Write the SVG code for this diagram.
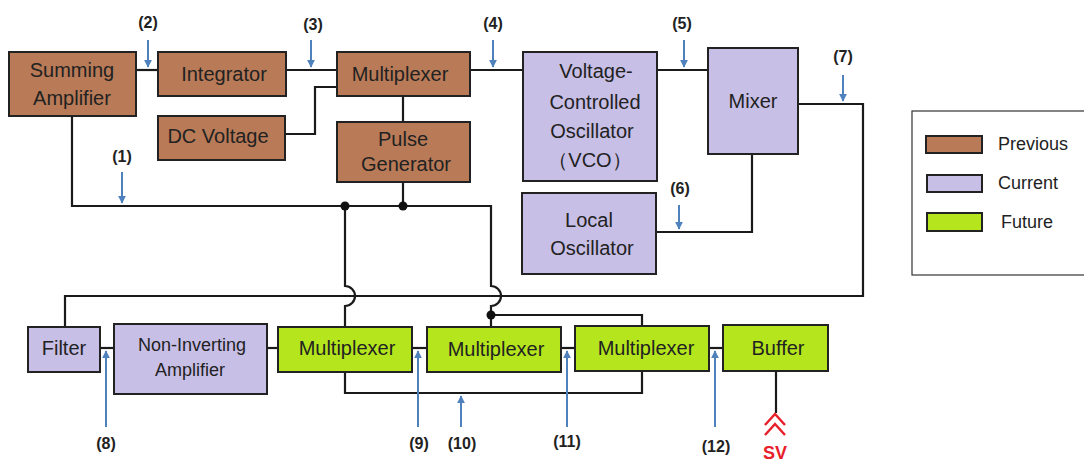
<svg xmlns="http://www.w3.org/2000/svg" width="1084" height="461" viewBox="0 0 1084 461">
<defs>
<marker id="ah" viewBox="0 0 10 10" refX="9" refY="5" markerWidth="4" markerHeight="4" orient="auto-start-reverse" markerUnits="strokeWidth">
<path d="M0,0 L10,5 L0,10 z" fill="#4F81BD"/>
</marker>
<style>
.prev{fill:#B97A57;stroke:#222;stroke-width:2}
.cur{fill:#C8BFE7;stroke:#222;stroke-width:2}
.fut{fill:#B5E61D;stroke:#222;stroke-width:2}
.t{font-family:"Liberation Sans",Arial,sans-serif;font-size:20px;fill:#222;text-anchor:middle}
.lbl{font-family:"Liberation Sans",Arial,sans-serif;font-weight:bold;font-size:16px;fill:#222;text-anchor:middle}
.w{fill:none;stroke:#1a1a1a;stroke-width:2.2}
.sig{stroke:#4F81BD;stroke-width:2;marker-end:url(#ah)}
.lg{font-family:"Liberation Sans",Arial,sans-serif;font-size:18px;fill:#222}
</style>
</defs>
<rect width="1084" height="461" fill="#fff"/>

<g id="connectors">
<path class="w" d="M136,70 H158"/>
<path class="w" d="M286,70 H337"/>
<path class="w" d="M285,134 H315 V87 H337"/>
<path class="w" d="M403,96 V122"/>
<path class="w" d="M470,70 H523"/>
<path class="w" d="M657,70 H708"/>
<path class="w" d="M752,154 V232 H656"/>
<path class="w" d="M798,104 H863 V296 H65 V327"/>
<path class="w" d="M72,116 V206 H491 V286 a10,10 0 0 1 0,20 V327"/>
<path class="w" d="M403,182 V206"/>
<path class="w" d="M345,206 V286 a10,10 0 0 1 0,20 V327"/>
<path class="w" d="M491,315 H642 V326"/>
<circle cx="345" cy="206" r="4.5" fill="#111"/>
<circle cx="403" cy="206" r="4.5" fill="#111"/>
<circle cx="491" cy="315" r="4.5" fill="#111"/>
<path class="w" d="M100,348 H114"/>
<path class="w" d="M267,348 H278"/>
<path class="w" d="M412,348 H427"/>
<path class="w" d="M561,348 H575"/>
<path class="w" d="M709,348 H723"/>
<path class="w" d="M345,372 V393 H642 V371"/>
<path class="w" d="M776,371 V413"/>
<path d="M765,425 L775,414 L785,425 M765,435 L775,424 L785,435" fill="none" stroke="#E8202A" stroke-width="2.5"/>
</g>

<g id="signals">
<line class="sig" x1="122" y1="172" x2="122" y2="203"/>
<line class="sig" x1="148" y1="40" x2="148" y2="67"/>
<line class="sig" x1="311" y1="40" x2="311" y2="67"/>
<line class="sig" x1="493" y1="40" x2="493" y2="67"/>
<line class="sig" x1="684" y1="40" x2="684" y2="67"/>
<line class="sig" x1="679" y1="205" x2="679" y2="229"/>
<line class="sig" x1="843" y1="75" x2="843" y2="101"/>
<line class="sig" x1="106" y1="427" x2="106" y2="351"/>
<line class="sig" x1="418" y1="427" x2="418" y2="351"/>
<line class="sig" x1="461" y1="427" x2="461" y2="396"/>
<line class="sig" x1="567" y1="427" x2="567" y2="351"/>
<line class="sig" x1="715" y1="427" x2="715" y2="351"/>
<text class="lbl" x="122" y="162">(1)</text>
<text class="lbl" x="148" y="28">(2)</text>
<text class="lbl" x="313" y="30">(3)</text>
<text class="lbl" x="493" y="29">(4)</text>
<text class="lbl" x="682" y="29">(5)</text>
<text class="lbl" x="680" y="194">(6)</text>
<text class="lbl" x="843" y="62">(7)</text>
<text class="lbl" x="106" y="449">(8)</text>
<text class="lbl" x="419" y="449">(9)</text>
<text class="lbl" x="462" y="449">(10)</text>
<text class="lbl" x="567" y="447">(11)</text>
<text class="lbl" x="716" y="452">(12)</text>
<text x="775" y="459" font-family="Liberation Sans,Arial,sans-serif" font-size="18" font-weight="bold" fill="#E8202A" text-anchor="middle">SV</text>
</g>

<g id="summing-amplifier"><rect class="prev" x="9" y="52" width="127" height="64"/><text class="t" x="72" y="77">Summing</text><text class="t" x="72" y="105">Amplifier</text></g>
<g id="integrator"><rect class="prev" x="158" y="52" width="128" height="44"/><text class="t" x="224" y="81">Integrator</text></g>
<g id="multiplexer-top"><rect class="prev" x="337" y="52" width="133" height="44"/><text class="t" x="400" y="81">Multiplexer</text></g>
<g id="dc-voltage"><rect class="prev" x="158" y="116" width="127" height="44"/><text class="t" x="218" y="143">DC Voltage</text></g>
<g id="pulse-generator"><rect class="prev" x="337" y="122" width="133" height="60"/><text class="t" x="403" y="146">Pulse</text><text class="t" x="406" y="171">Generator</text></g>
<g id="vco"><rect class="cur" x="523" y="52" width="134" height="129"/><text class="t" x="596" y="78">Voltage-</text><text class="t" x="595" y="109">Controlled</text><text class="t" x="592" y="138">Oscillator</text><text class="t" x="590" y="167">（VCO）</text></g>
<g id="local-oscillator"><rect class="cur" x="522" y="193" width="134" height="81"/><text class="t" x="589" y="227">Local</text><text class="t" x="592" y="255">Oscillator</text></g>
<g id="mixer"><rect class="cur" x="708" y="48" width="90" height="106"/><text class="t" x="753" y="108">Mixer</text></g>
<g id="filter"><rect class="cur" x="28" y="327" width="72" height="45"/><text class="t" x="64" y="355">Filter</text></g>
<g id="non-inverting-amplifier"><rect class="cur" x="114" y="324" width="153" height="70"/><text class="t" x="192" y="351" style="font-size:18px">Non-Inverting</text><text class="t" x="190" y="376" style="font-size:18px">Amplifier</text></g>
<g id="multiplexer-1"><rect class="fut" x="278" y="327" width="134" height="45"/><text class="t" x="347" y="355">Multiplexer</text></g>
<g id="multiplexer-2"><rect class="fut" x="427" y="327" width="134" height="45"/><text class="t" x="496" y="356">Multiplexer</text></g>
<g id="multiplexer-3"><rect class="fut" x="575" y="326" width="134" height="45"/><text class="t" x="646" y="355">Multiplexer</text></g>
<g id="buffer"><rect class="fut" x="723" y="325" width="105" height="46"/><text class="t" x="778" y="355">Buffer</text></g>

<g id="legend">
<rect x="912" y="111" width="180" height="164" fill="#fff" stroke="#333" stroke-width="1.2"/>
<rect class="prev" x="926" y="136" width="56" height="17" stroke-width="1.5"/>
<rect class="cur" x="927" y="175" width="55" height="17" stroke-width="1.5"/>
<rect class="fut" x="927" y="213" width="55" height="18" stroke-width="1.5"/>
<text class="lg" x="998" y="150">Previous</text>
<text class="lg" x="998" y="189">Current</text>
<text class="lg" x="1001" y="228">Future</text>
</g>
</svg>
